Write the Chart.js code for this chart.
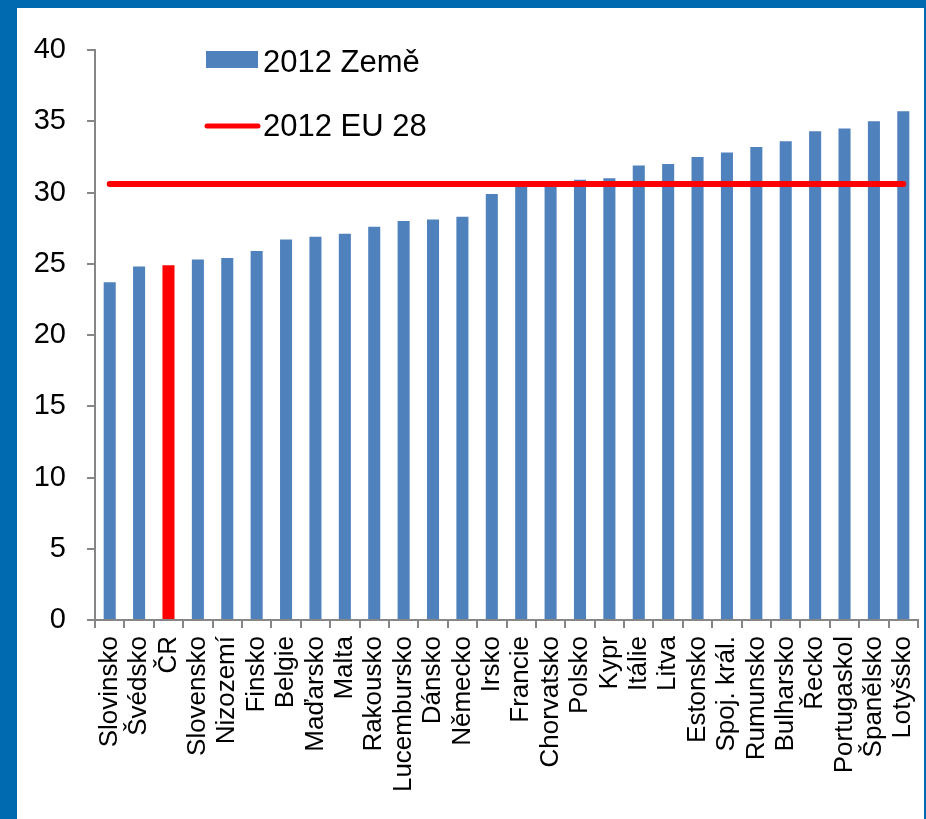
<!DOCTYPE html>
<html>
<head>
<meta charset="utf-8">
<script src="https://cdn.jsdelivr.net/npm/chart.js@4.4.1/dist/chart.umd.min.js"></script>
<style>
  html, body { margin: 0; padding: 0; }
  body { width: 926px; height: 819px; background: #006AB0; position: relative; overflow: hidden; }
  #frame { position: absolute; left: 17px; top: 8px; width: 907px; height: 811px; background: #ffffff; }
  #c { position: absolute; left: 0; top: 0; }
</style>
</head>
<body>
<div id="frame"></div>
<canvas id="c" width="926" height="819"></canvas>
<script>
const categories = ["Slovinsko","Švédsko","ČR","Slovensko","Nizozemí","Finsko","Belgie","Maďarsko","Malta","Rakousko","Lucembursko","Dánsko","Německo","Irsko","Francie","Chorvatsko","Polsko","Kypr","Itálie","Litva","Estonsko","Spoj. král.","Rumunsko","Bulharsko","Řecko","Portugaskol","Španělsko","Lotyšsko"];
const countryValues = [23.7,24.8,24.9,25.3,25.4,25.9,26.7,26.9,27.1,27.6,28.0,28.1,28.3,29.9,30.6,30.7,30.9,31.0,31.9,32.0,32.5,32.8,33.2,33.6,34.3,34.5,35.0,35.7];
const euValue = 30.6;
const euValues = categories.map(() => euValue);
const highlightCategory = "ČR";
const seriesLabels = ["2012 Země", "2012 EU 28"];
const yTicks = [0,5,10,15,20,25,30,35,40];

const BLUE = "#4F81BD";
const RED = "#FF0000";
const AXIS = "#868686";
const FONT = "'Liberation Sans', Arial, sans-serif";

const legendPlugin = {
  id: 'insideLegend',
  afterDraw(chart) {
    const ctx = chart.ctx;
    ctx.save();
    ctx.font = "31px " + FONT;
    ctx.textBaseline = "alphabetic";
    ctx.textAlign = "left";
    ctx.fillStyle = BLUE;
    ctx.fillRect(206, 51, 52, 17);
    ctx.fillStyle = "#000";
    ctx.fillText(chart.data.datasets[0].label, 263, 72);
    ctx.strokeStyle = RED;
    ctx.lineWidth = 5;
    ctx.lineCap = "round";
    ctx.beginPath();
    ctx.moveTo(207, 126);
    ctx.lineTo(258, 126);
    ctx.stroke();
    ctx.fillText(chart.data.datasets[1].label, 263, 136);
    ctx.restore();
  }
};

new Chart(document.getElementById('c'), {
  data: {
    labels: categories,
    datasets: [
      {
        type: 'bar',
        label: seriesLabels[0],
        data: countryValues,
        backgroundColor: categories.map(c => c === highlightCategory ? RED : BLUE),
        borderWidth: 0,
        barPercentage: 0.41,
        categoryPercentage: 1.0,
        order: 2
      },
      {
        type: 'line',
        label: seriesLabels[1],
        data: euValues,
        borderColor: RED,
        borderWidth: 6,
        borderCapStyle: 'round',
        pointRadius: 0,
        fill: false,
        order: 1
      }
    ]
  },
  options: {
    responsive: false,
    animation: false,
    layout: { padding: { left: 20, right: 8, top: 50, bottom: 0 } },
    plugins: { legend: { display: false }, tooltip: { enabled: false } },
    scales: {
      x: {
        type: 'category',
        offset: true,
        grid: { display: true, offset: true, drawOnChartArea: false, drawTicks: true, tickLength: 8, color: AXIS, lineWidth: 2 },
        border: { display: true, color: AXIS, width: 2 },
        ticks: { autoSkip: false, maxRotation: 90, minRotation: 90, padding: 8, color: "#000", font: { family: FONT, size: 26 } },
        afterFit(scale) { scale.height = 199; scale.paddingLeft = 0; scale.paddingRight = 0; }
      },
      y: {
        min: 0, max: 40,
        afterBuildTicks(scale) { scale.ticks = yTicks.map(v => ({ value: v })); },
        grid: { display: true, drawOnChartArea: false, drawTicks: true, tickLength: 8, color: AXIS, lineWidth: 2 },
        border: { display: true, color: AXIS, width: 2 },
        ticks: { padding: 21, color: "#000", font: { family: FONT, size: 29 } },
        afterFit(scale) { scale.width = 75; }
      }
    }
  },
  plugins: [legendPlugin]
});
</script>
</body>
</html>
